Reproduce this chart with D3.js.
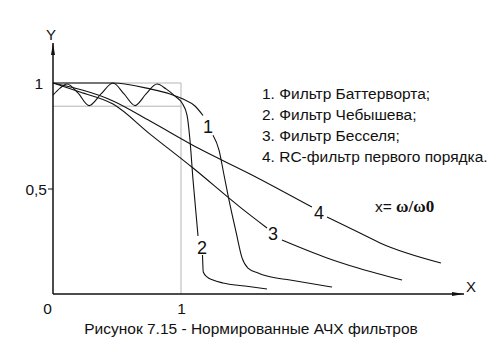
<!DOCTYPE html>
<html>
<head>
<meta charset="utf-8">
<script src="https://cdn.jsdelivr.net/npm/d3@7"></script>
<style>
  body { margin: 0; background: #fff; }
  text { font-family: "Liberation Sans", Arial, sans-serif; fill: #111; }
</style>
</head>
<body>
<div class="painter"></div>
<script>
// curves, x = w/w0, y = normalized gain; null = break for the number label
const butterworth = [[0, 1], [0.469, 1], [0.758, 0.972], [0.914, 0.948], [1.016, 0.924], [1.109, 0.891], [1.172, 0.846], null,
  [1.25, 0.752], [1.297, 0.682], [1.336, 0.564], [1.383, 0.422], [1.43, 0.294], [1.477, 0.171], [1.523, 0.123],
  [1.602, 0.1], [1.672, 0.085], [1.852, 0.066], [2.18, 0.033]]
const chebyshev = [[0, 0.943], [0.055, 0.976], [0.109, 0.995], [0.195, 0.953], [0.281, 0.893], [0.375, 0.948], [0.469, 1],
  [0.555, 0.948], [0.641, 0.893], [0.727, 0.948], [0.813, 0.995], [0.883, 0.972], [0.953, 0.938], [1.008, 0.905],
  [1.047, 0.848], [1.07, 0.73], [1.094, 0.54], [1.133, 0.275], null,
  [1.168, 0.185], [1.174, 0.104], [1.203, 0.081], [1.25, 0.066], [1.328, 0.052], [1.5, 0.038], [1.672, 0.024]]
const bessel = [[0, 1], [0.211, 0.957], [0.469, 0.9], [0.758, 0.758], [1.094, 0.597], [1.461, 0.412], [1.672, 0.313], null,
  [1.789, 0.256], [2.141, 0.171], [2.383, 0.123], [2.727, 0.066]]
const rcFilter = [[0, 1], [0.469, 0.915], [0.758, 0.82], [1.148, 0.687], [1.539, 0.569], [2.023, 0.412], null,
  [2.141, 0.365], [2.398, 0.289], [2.555, 0.242], [3.031, 0.147]]

const curveNames = ['1', '2', '3', '4']
const curveLabelAt = [[1.211, 0.796], [1.164, 0.218], [1.719, 0.289], [2.078, 0.384]]
const legendItems = ['1. Фильтр Баттерворта;', '2. Фильтр Чебышева;', '3. Фильтр Бесселя;', '4. RC-фильтр первого порядка.']
const rippleLow = 0.89
const yTicks = [0.5, 1]
const xTicks = [0, 1]
const caption = 'Рисунок 7.15 - Нормированные АЧХ фильтров'

const W = 498, H = 359
const svg = d3.select('.painter').append('svg').attr('width', W).attr('height', H)

const x = d3.scaleLinear().domain([0, 1]).range([53, 181])
const y = d3.scaleLinear().domain([0, 1]).range([294, 83])

const defs = svg.append('defs')
defs.append('marker').attr('id', 'arr').attr('viewBox', '0 0 12 6')
    .attr('refX', 12).attr('refY', 3).attr('markerWidth', 12).attr('markerHeight', 6)
    .attr('markerUnits', 'userSpaceOnUse').attr('orient', 'auto')
    .append('path').attr('d', 'M0 1 L12 3 L0 5 Z').attr('fill', '#111')

// grey guide box
const grey = '#b5b5b5'
svg.append('path')
    .attr('d', `M${x(0)} ${y(1)} H${x(1)} V${y(0)} M${x(0)} ${y(rippleLow)} H${x(1)}`)
    .attr('fill', 'none').attr('stroke', grey).attr('stroke-width', 1)

// axes
svg.append('line').attr('x1', x(0)).attr('y1', y(0)).attr('x2', x(0)).attr('y2', 43)
    .attr('stroke', '#111').attr('stroke-width', 1.5).attr('marker-end', 'url(#arr)')
svg.append('line').attr('x1', x(0)).attr('y1', y(0)).attr('x2', 464).attr('y2', y(0))
    .attr('stroke', '#111').attr('stroke-width', 1.5).attr('marker-end', 'url(#arr)')

const yAxis = svg.append('g').attr('transform', `translate(${x(0)},0)`)
    .call(d3.axisLeft(y).tickValues(yTicks).tickSize(5).tickPadding(4)
        .tickFormat(d => String(d).replace('.', ',')))
yAxis.select('.domain').remove()
yAxis.selectAll('.tick line').attr('stroke', '#111').attr('opacity', d => d === 1 ? 0 : 1)
yAxis.selectAll('.tick text').attr('font-size', 15.5).attr('font-family', 'Liberation Sans, Arial, sans-serif')
    .attr('fill', '#111').attr('dx', d => d === 1 ? -1 : 3).attr('dy', '0.36em')

const xAxis = svg.append('g').attr('transform', `translate(0,${y(0)})`)
    .call(d3.axisBottom(x).tickValues(xTicks).tickSize(0).tickPadding(9).tickFormat(d => String(d)))
xAxis.select('.domain').remove()
xAxis.selectAll('.tick text').attr('font-size', 15.5).attr('font-family', 'Liberation Sans, Arial, sans-serif')
    .attr('fill', '#111').attr('dx', d => d === 0 ? -6 : 0)

svg.append('text').attr('x', 51).attr('y', 40).attr('text-anchor', 'middle').attr('font-size', 15).text('Y')
svg.append('text').attr('x', 471).attr('y', 292).attr('text-anchor', 'middle').attr('font-size', 15).text('X')

// curves
const line = d3.line().defined(d => d !== null)
    .x(d => x(d[0])).y(d => y(d[1])).curve(d3.curveMonotoneX)
const curves = [butterworth, chebyshev, bessel, rcFilter]
curves.forEach(c => {
    svg.append('path').attr('d', line(c))
        .attr('fill', 'none').attr('stroke', '#111').attr('stroke-width', 1.1)
})

curveNames.forEach((n, i) => {
    svg.append('text').attr('x', x(curveLabelAt[i][0])).attr('y', y(curveLabelAt[i][1]))
        .attr('dy', '0.36em').attr('text-anchor', 'middle').attr('font-size', 18).text(n)
})

// legend
legendItems.forEach((t, i) => {
    svg.append('text').attr('x', 262).attr('y', 99 + i * 21).attr('font-size', 15.5).text(t)
})

const formula = svg.append('text').attr('x', 375).attr('y', 212).attr('font-size', 15.5)
formula.append('tspan').text('x= ')
formula.append('tspan').attr('font-family', 'Liberation Serif, Times New Roman, serif')
    .attr('font-weight', 'bold').attr('font-size', 17).text('ω/ω0')

svg.append('text').attr('x', 251).attr('y', 334).attr('text-anchor', 'middle')
    .attr('font-size', 15.5).text(caption)
</script>
</body>
</html>
